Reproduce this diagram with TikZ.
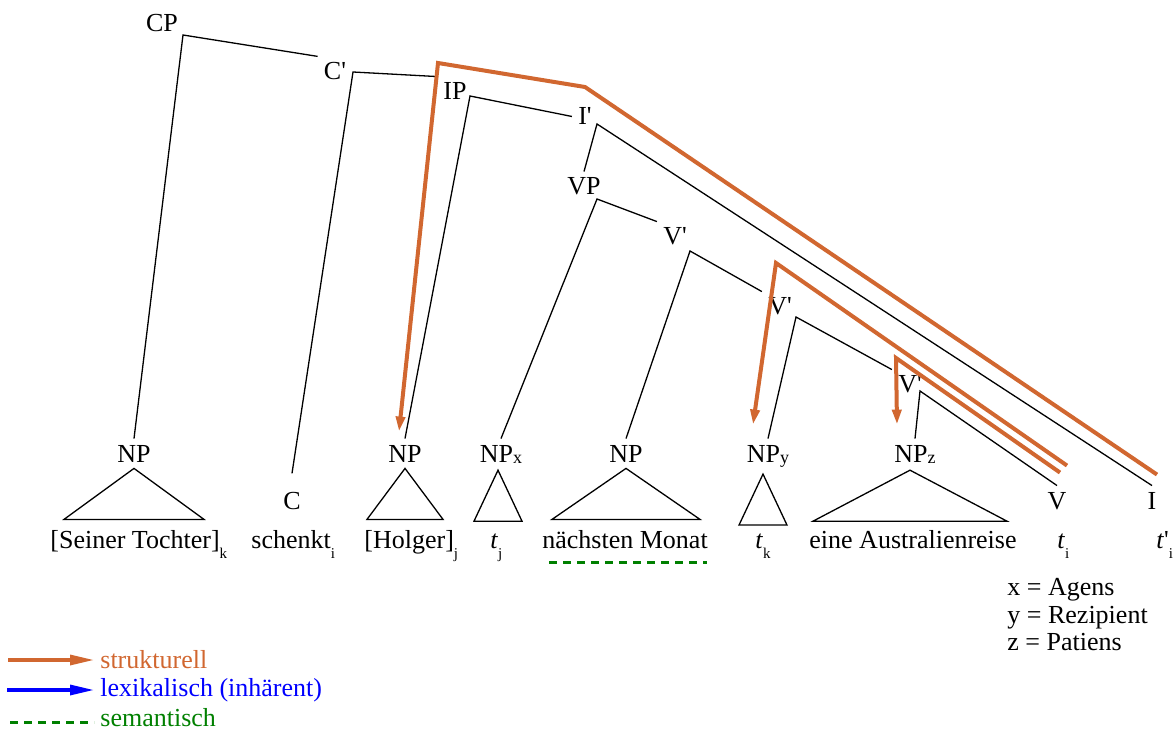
\documentclass[tikz,border=0pt]{standalone}
\usepackage{fontspec}
\setmainfont{Liberation Serif}
\usetikzlibrary{arrows.meta}

\definecolor{strukorange}{RGB}{209,103,48}
\definecolor{lexblue}{RGB}{0,0,255}
\definecolor{semgreen}{RGB}{0,128,0}

\newcommand{\sub}[1]{\raisebox{-0.9ex}{\fontsize{7.5}{7.5}\selectfont #1}}
\newcommand{\npsub}[1]{\raisebox{-0.15ex}{\fontsize{9}{9}\selectfont #1}}
\newcommand{\apo}{\textquotesingle}
\newcommand{\tr}{\textit{t}}

\begin{document}
\begin{tikzpicture}[x=0.5pt, y=-0.5pt,
  lbl/.style={anchor=base, inner sep=3pt, font=\fontsize{13}{15}\selectfont},
  word/.style={anchor=base west, inner sep=1pt, font=\fontsize{13}{15}\selectfont},
  branch/.style={black, line width=0.65pt},
  case/.style={strukorange, line width=2pt, line join=miter, -{Triangle[length=7.5pt,width=4.5pt]}},
  legarrow/.style={line width=1.6pt, -{Triangle[length=12pt,width=5pt]}},
  sem/.style={semgreen, line width=1.5pt, dash pattern=on 4pt off 3pt}]

  \useasboundingbox (0,0) rectangle (1176,731);

  % tree labels
  \node[lbl] (cp) at (162,32) {CP};
  \node[lbl] (cbar) at (335,80) {C\apo};
  \node[lbl] (ip) at (455,100) {IP};
  \node[lbl] (ibar) at (585,125) {I\apo};
  \node[lbl] (vp) at (584,195) {VP};
  \node[lbl] (vbara) at (675,245) {V\apo};
  \node[lbl] (vbarb) at (780,315) {V\apo};
  \node[lbl] (vbarc) at (910,393) {V\apo};

  \node[lbl] (npk) at (134,462) {NP};
  \node[lbl] (chead) at (292,509) {C};
  \node[lbl] (npj) at (405,462) {NP};
  \node[lbl] (npx) at (501,462) {NP\npsub{x}};
  \node[lbl] (npm) at (626,462) {NP};
  \node[lbl] (npy) at (768,462) {NP\npsub{y}};
  \node[lbl] (npz) at (915,462) {NP\npsub{z}};
  \node[lbl] (vhead) at (1057,509) {V};
  \node[lbl] (ihead) at (1152,509) {I};

  % words
  \node[word] (tochter) at (48,548) {[Seiner Tochter]\sub{k}};
  \node[word] (schenkt) at (249,548) {schenkt\sub{i}};
  \node[word] (holger) at (362,548) {[Holger]\sub{j}};
  \node[word] (tj) at (488,548) {\tr\sub{j}};
  \node[word] (monat) at (540,548) {nächsten Monat};
  \node[word] (tk) at (753,548) {\tr\sub{k}};
  \node[word] (reise) at (807,548) {eine Australienreise};
  \node[word] (ti) at (1055,548) {\tr\sub{i}};
  \node[word] (tip) at (1154,548) {\tr\apo\sub{i}};

  % branches
  \coordinate (cp-c) at (183,35);
  \coordinate (cbar-c) at (353,72);
  \coordinate (ip-c) at (470,96);
  \coordinate (ibar-c) at (597,124);
  \coordinate (vp-c) at (597,199);
  \coordinate (vbara-c) at (690,251);
  \coordinate (vbarb-c) at (796,317);
  \coordinate (vbarc-c) at (920,391);

  \draw[branch] (npk.north) -- (cp-c) -- (cbar.north west);
  \draw[branch] ([yshift=6pt]chead.north) -- (cbar-c) -- (ip.north west);
  \draw[branch] (npj.north) -- (ip-c) -- (ibar.west);
  \draw[branch] (vp.north) -- (ibar-c) -- (ihead.north);
  \draw[branch] (npx.north) -- (vp-c) -- (vbara.north west);
  \draw[branch] (npm.north) -- (vbara-c) -- (vbarb.north west);
  \draw[branch] (npy.north) -- (vbarb-c) -- (vbarc.north west);
  \draw[branch] (npz.north) -- (vbarc-c) -- (vhead.north);

  % triangles
  \draw[branch] (npk.south) -- ++(-70,51) -- ++(140,0) -- cycle;
  \draw[branch] (npj.south) -- ++(-38,51) -- ++(76,0) -- cycle;
  \draw[branch] ([xshift=-1.5pt]npx.south) -- ++(-24,51) -- ++(48,0) -- cycle;
  \draw[branch] (npm.south) -- ++(-74,51) -- ++(148,0) -- cycle;
  \draw[branch] ([xshift=-2.5pt]npy.south) -- ++(-24,51) -- ++(48,0) -- cycle;
  \draw[branch] ([xshift=-2.5pt]npz.south) -- ++(-97,51) -- ++(194,0) -- cycle;

  % case assignment
  \coordinate (i-top) at (438,63);
  \coordinate (i-mid) at (585,87);
  \coordinate (v-topa) at (776,263);
  \coordinate (v-topb) at (896,358);

  \draw[case] ([shift={(5,-11)}]ihead.north) -- (i-mid) -- (i-top) -- ([shift={(-6,-7)}]npj.north);
  \draw[case] ([shift={(10,-20)}]vhead.north) -- (v-topa) -- ([shift={(-15,-14)}]npy.north);
  \draw[case] ([shift={(3,-13)}]vhead.north) -- (v-topb) -- ([shift={(-18,-14)}]npz.north);

  \draw[sem] ([shift={(9,12)}]monat.south west) -- ([shift={(-3,12)}]monat.south east);

  % key
  \node[anchor=north west, align=left, inner sep=1pt, font=\fontsize{13}{13.75}\selectfont] (key) at (1005,576) {x = Agens\\y = Rezipient\\z = Patiens};

  % legend
  \coordinate (leg-a) at (8,660);
  \coordinate (leg-b) at (7,690);
  \coordinate (leg-c) at (10,722);
  \node[word, anchor=west, inner sep=3pt, text=strukorange] (leg-struk) at (94,660) {strukturell};
  \node[word, anchor=west, inner sep=3pt, text=lexblue] (leg-lex) at (94,690) {lexikalisch (inhärent)};
  \node[word, anchor=west, inner sep=3pt, text=semgreen] (leg-sem) at (94,718) {semantisch};
  \draw[legarrow, strukorange] (leg-a) -- (leg-struk);
  \draw[legarrow, lexblue] (leg-b) -- (leg-lex);
  \draw[sem] (leg-c) -- ([yshift=-2pt]leg-sem.west);

\end{tikzpicture}
\end{document}
